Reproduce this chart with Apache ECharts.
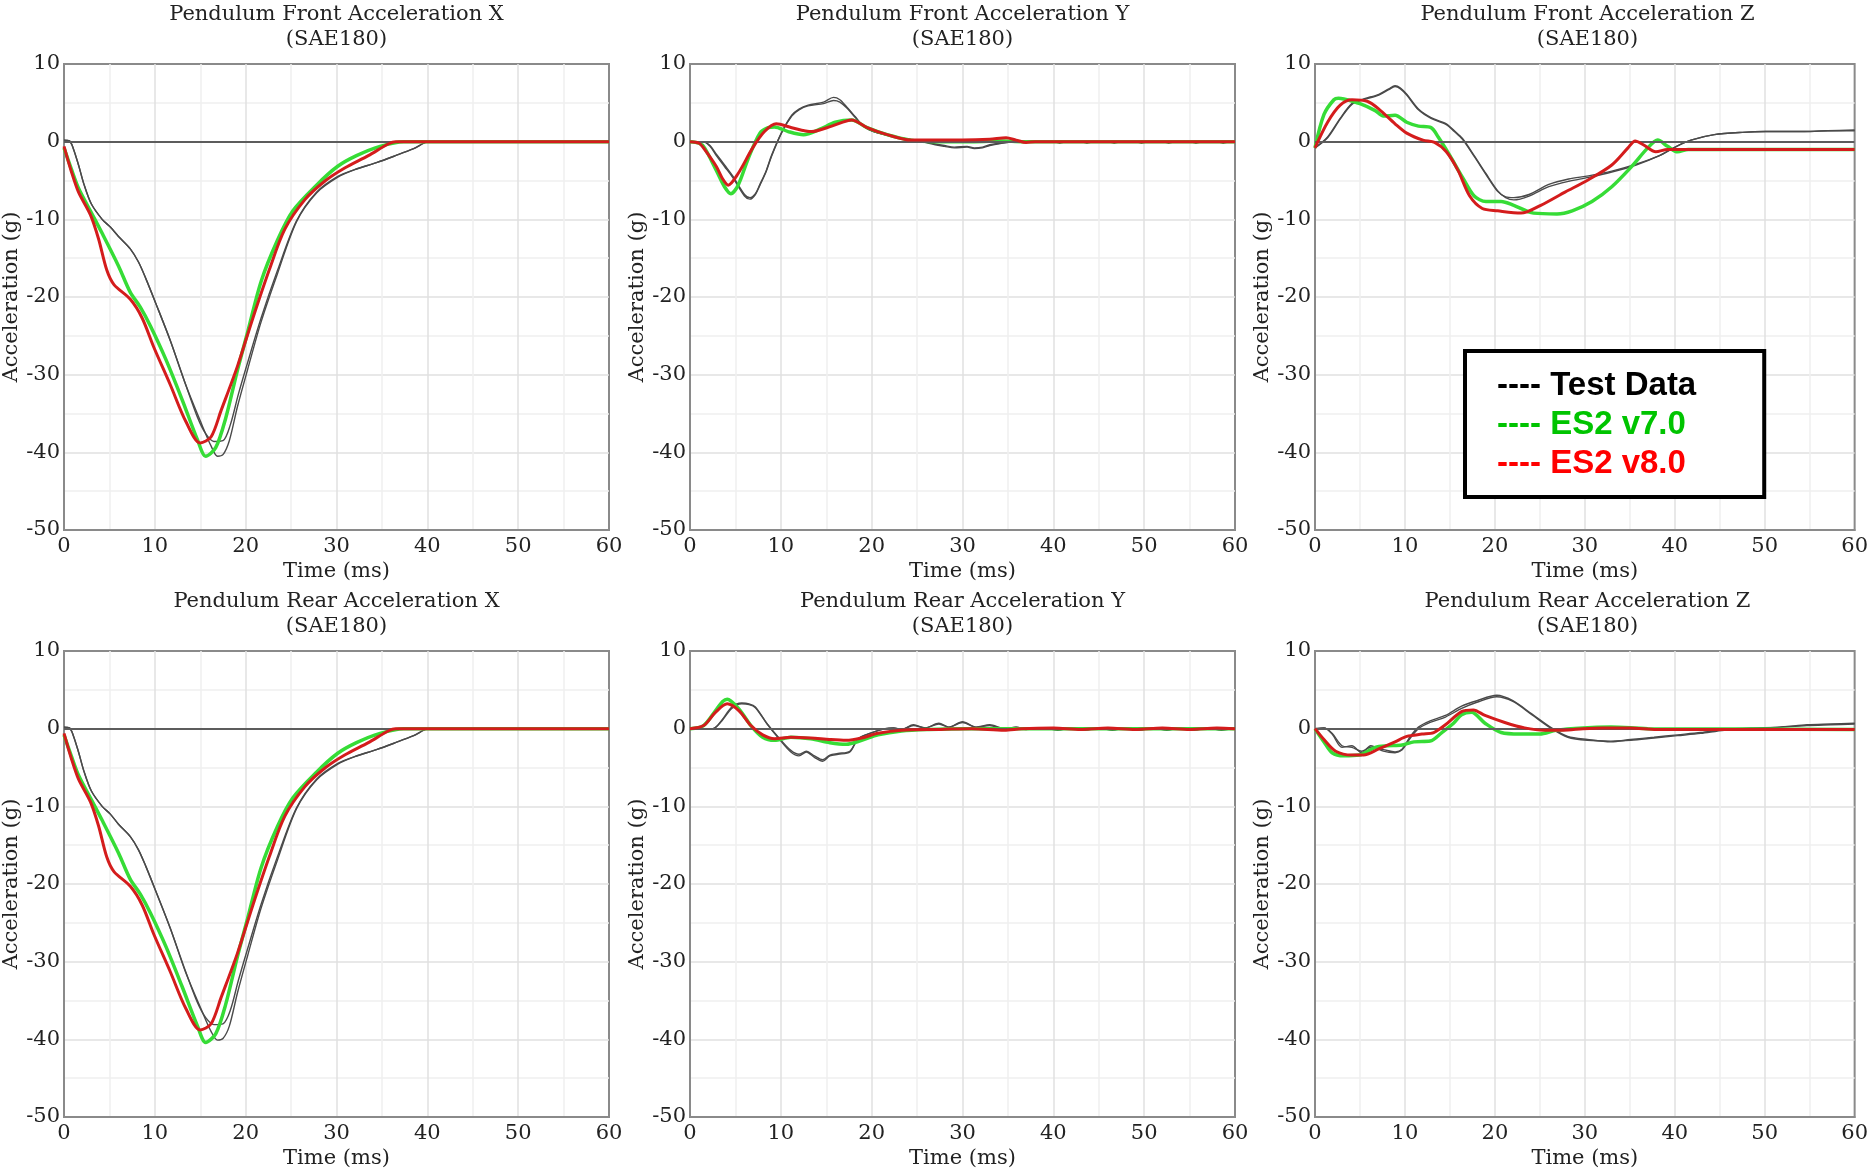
<!DOCTYPE html>
<html>
<head>
<meta charset="utf-8">
<script src="https://cdn.jsdelivr.net/npm/echarts@6/dist/echarts.min.js"></script>
<style>
html,body{margin:0;padding:0;background:#fff;}
#chart{width:1871px;height:1170px;}
</style>
</head>
<body>
<div id="chart"></div>
<script>
// ---------- DATA (time ms, acceleration g) ----------
const PANEL_TITLES = [
  'Pendulum Front Acceleration X', 'Pendulum Front Acceleration Y', 'Pendulum Front Acceleration Z',
  'Pendulum Rear Acceleration X', 'Pendulum Rear Acceleration Y', 'Pendulum Rear Acceleration Z'
];
const FILTER_LABEL = '(SAE180)';
const SERIES_NAMES = ['Test Data', 'ES2 v7.0', 'ES2 v8.0'];
const X_AXIS_NAME = 'Time (ms)';
const Y_AXIS_NAME = 'Acceleration (g)';

// Front X
const FX_TEST1 = [[0,0.2],[0.6,0.1],[1,-0.8],[1.6,-3],[2.2,-5.5],[3,-8],[4.2,-10],[5.1,-11],[6,-12.2],[7.3,-13.8],[8.2,-15.5],[9,-17.6],[10.1,-20.8],[11.7,-25.6],[13.4,-31.3],[15.2,-36.5],[16.2,-39.2],[16.9,-40.5],[17.5,-40.3],[18.2,-38.5],[19.1,-34.1],[20.2,-29.4],[21.7,-23.2],[23.5,-17],[25.6,-10.3],[27.8,-6.6],[30.1,-4.6],[32,-3.6],[34.4,-2.7],[36.5,-1.8],[38.5,-0.9],[40.2,0],[60,0]];
const FX_TEST2 = [[0,0.2],[0.6,0.1],[1,-0.8],[1.6,-3],[2.2,-5.5],[3,-8],[4.2,-10],[5.1,-11],[6,-12.2],[7.3,-13.8],[8.2,-15.5],[9,-17.6],[10.1,-20.8],[11.7,-25.6],[13.4,-31.3],[14.7,-35.5],[15.6,-37.6],[16.5,-38.6],[17.5,-38.5],[18.3,-36.5],[19.2,-32.5],[20.2,-28.5],[21.7,-22.7],[23.5,-16.6],[25.6,-10.2],[27.8,-6.5],[30.1,-4.5],[32,-3.6],[34.4,-2.7],[36.5,-1.8],[38.5,-0.9],[40.2,0],[60,0]];
const FX_V7 = [[0,-0.8],[0.8,-3.5],[1.6,-6],[2.9,-8.9],[4.2,-11.8],[6,-16],[7.3,-19.4],[8.4,-21.3],[9.5,-23.7],[11.2,-28],[13,-33.2],[14.7,-38.4],[15.6,-40.5],[16.7,-39.4],[17.8,-35.6],[19.1,-29.4],[20.2,-24.6],[21.7,-18],[23.5,-12.7],[25.2,-8.9],[27.8,-5.6],[30.1,-3.2],[32.2,-1.8],[34.8,-0.6],[37.4,0],[60,0]];
const FX_V8 = [[0,-0.6],[0.8,-3.8],[1.6,-6.5],[2.9,-9.4],[3.8,-12.5],[4.7,-16.5],[5.5,-18.4],[7.3,-20.3],[8.6,-22.7],[9.9,-26.5],[11.7,-31.3],[13.4,-36],[15,-38.8],[16.2,-38],[17.3,-34.6],[19.1,-28.9],[20.8,-22.7],[22.6,-16.5],[24.3,-11.3],[26.5,-7.5],[28.7,-5.1],[30.9,-3.4],[33.5,-1.8],[35.7,-0.3],[36.5,0],[60,0]];

// Front Y
const FY_TEST1 = [[0,0],[1.4,0],[2.2,-0.6],[2.9,-1.8],[3.8,-3.2],[4.7,-4.6],[6,-7],[6.6,-7.4],[7.2,-6.8],[7.7,-5.6],[8.4,-3.8],[9,-1.8],[10.1,1.2],[11.2,3.4],[12,4.2],[13,4.7],[14.7,5.1],[15.8,5.7],[16.5,5.4],[17.3,4.4],[18.2,3.2],[19.1,2],[20.2,1.3],[22.6,0.6],[25.2,0.1],[27,-0.4],[28,-0.6],[29.1,-0.8],[30.5,-0.7],[31.3,-0.9],[32.2,-0.8],[33,-0.5],[34.8,-0.1],[36.5,0],[40,0],[40.7,-0.2],[41.5,0],[43,0],[43.7,-0.2],[44.5,0],[46,0],[46.7,-0.2],[47.5,0],[49,0],[49.7,-0.2],[50.5,0],[52,0],[52.7,-0.2],[53.5,0],[55,0],[55.7,-0.2],[56.5,0],[58,0],[58.7,-0.2],[59.5,0],[60,0]];
const FY_TEST2 = [[0,0],[1.4,0],[2.2,-0.5],[2.9,-1.6],[3.8,-3],[4.7,-4.4],[6,-6.8],[6.6,-7.2],[7.2,-6.7],[7.7,-5.5],[8.4,-3.7],[9,-1.7],[10.1,1.2],[11.2,3.3],[12,4.1],[13,4.6],[14.7,4.9],[15.8,5.3],[16.5,5.1],[17.3,4.3],[18.2,3.1],[19.1,2],[20.2,1.3],[22.6,0.6],[25.2,0.1],[27,-0.3],[28,-0.5],[29.1,-0.7],[30.5,-0.6],[31.3,-0.8],[32.2,-0.7],[33,-0.4],[34.8,-0.1],[36.5,0],[60,0]];
const FY_V7 = [[0,0],[1,-0.2],[1.6,-0.8],[2.9,-3.7],[3.8,-5.8],[4.5,-6.7],[5.3,-5.6],[6.4,-2.2],[7.7,1.1],[8.6,1.8],[9.3,1.9],[10.8,1.3],[12.5,0.9],[14.3,1.6],[16,2.5],[17.8,2.8],[19.5,1.8],[21.7,0.9],[24.3,0.2],[27,0],[31.3,0],[34.4,0.1],[36.5,0],[60,0]];
const FY_V8 = [[0,0],[1,-0.2],[1.6,-1],[2.9,-3.2],[3.6,-4.8],[4.2,-5.6],[5.3,-4.1],[6.9,-0.8],[8.2,1.3],[9.5,2.3],[11.2,1.8],[13.4,1.3],[15.6,2],[17.8,2.8],[19.5,1.8],[21.7,0.9],[24.3,0.2],[27,0.2],[30,0.2],[33,0.3],[34.8,0.5],[35.9,0.2],[37,-0.1],[38,0],[60,0]];

// Front Z
const FZ_TEST1 = [[0,-0.8],[1.4,0.6],[2.8,3],[4.1,4.9],[5.4,5.5],[7.1,6.1],[8.2,6.8],[8.9,7.2],[9.5,6.9],[10.2,6.1],[11.5,4.2],[12.9,3.1],[14.6,2.3],[15.5,1.4],[16.4,0.4],[17.7,-1.8],[19,-4.1],[20.3,-6.3],[21.2,-7.2],[22.1,-7.5],[23.8,-7],[26,-5.8],[28.2,-5.1],[30.4,-4.6],[33,-3.9],[35.7,-3],[38.3,-1.8],[40.2,-0.6],[41.8,0.2],[44.4,0.9],[47.5,1.2],[50.1,1.3],[54.1,1.3],[57,1.4],[60,1.5]];
const FZ_TEST2 = [[0,-0.8],[1.4,0.5],[2.8,2.9],[4.1,4.8],[5.4,5.4],[7.1,6],[8.2,6.7],[8.9,7.1],[9.5,6.8],[10.2,6],[11.5,4.1],[12.9,3],[14.6,2.2],[15.5,1.3],[16.4,0.3],[17.7,-1.9],[19,-4.2],[20.3,-6.4],[21.2,-7.1],[22.1,-7.2],[23.8,-6.8],[26,-5.5],[28.2,-4.8],[30.4,-4.4],[33,-3.8],[35.7,-2.9],[38.3,-1.8],[40.2,-0.6],[41.8,0.2],[44.4,0.9],[47.5,1.2],[50.1,1.3],[54.1,1.3],[57,1.4],[60,1.4]];
const FZ_V7 = [[0,-0.8],[1,3.5],[2.1,5.4],[2.6,5.6],[3.2,5.5],[5,4.9],[6.7,4],[7.6,3.3],[8.9,3.4],[10.2,2.5],[11.5,2],[12.9,1.8],[13.7,0.6],[15,-1.8],[16.4,-4.6],[17.7,-7],[19,-7.7],[20.7,-7.7],[22.1,-8.2],[24.3,-9.2],[26.9,-9.3],[28.6,-8.9],[30.8,-7.7],[33,-5.8],[35.2,-3.2],[37,-0.8],[38.1,0.2],[39.2,-0.6],[40.3,-1.3],[41.5,-1],[48,-1],[60,-1]];
const FZ_V8 = [[0,-0.8],[1.4,2.5],[2.8,4.7],[4.1,5.4],[5.8,5.2],[7.1,4.2],[8.9,2.3],[10.2,1.1],[12,0.2],[13.3,-0.1],[14.6,-1.3],[15.9,-3.7],[17.2,-7],[18.6,-8.6],[20.3,-8.9],[22.9,-9.2],[25.1,-8.2],[27.8,-6.5],[30.4,-4.9],[33,-3],[34.8,-0.8],[35.6,0.1],[36.5,-0.4],[37.9,-1.3],[39.2,-1],[50,-1],[60,-1]];

// Rear X
const RX_TEST1 = [[0,0.2],[0.6,0.1],[1,-0.8],[1.6,-3],[2.2,-5.5],[3,-8],[4.2,-10],[5.1,-11],[6,-12.3],[7.3,-13.9],[8.2,-15.6],[9,-17.7],[10.1,-20.9],[11.7,-25.7],[13.4,-31.4],[15.2,-36.4],[16.2,-39],[16.9,-40.1],[17.5,-39.9],[18.2,-38.3],[19.1,-34],[20.2,-29.3],[21.7,-23.1],[23.5,-16.9],[25.6,-10.3],[27.8,-6.6],[30.1,-4.6],[32,-3.6],[34.4,-2.7],[36.5,-1.8],[38.5,-0.9],[40.2,0],[60,0]];
const RX_TEST2 = [[0,0.2],[0.6,0.1],[1,-0.8],[1.6,-3],[2.2,-5.5],[3,-8],[4.2,-10],[5.1,-11],[6,-12.3],[7.3,-13.9],[8.2,-15.6],[9,-17.7],[10.1,-20.9],[11.7,-25.7],[13.4,-31.3],[14.7,-35.3],[15.6,-37.2],[16.5,-38.1],[17.5,-38],[18.3,-36.3],[19.2,-32.4],[20.2,-28.4],[21.7,-22.6],[23.5,-16.5],[25.6,-10.2],[27.8,-6.5],[30.1,-4.5],[32,-3.6],[34.4,-2.7],[36.5,-1.8],[38.5,-0.9],[40.2,0],[60,0]];
const RX_V7 = [[0,-0.8],[0.8,-3.5],[1.6,-6],[2.9,-8.9],[4.2,-11.8],[6,-16],[7.3,-19.4],[8.4,-21.3],[9.5,-23.7],[11.2,-28],[13,-33.2],[14.7,-38.3],[15.6,-40.4],[16.7,-39.3],[17.8,-35.5],[19.1,-29.3],[20.2,-24.5],[21.7,-17.9],[23.5,-12.6],[25.2,-8.9],[27.8,-5.6],[30.1,-3.2],[32.2,-1.8],[34.8,-0.6],[37.4,0],[60,0]];
const RX_V8 = [[0,-0.6],[0.8,-3.8],[1.6,-6.5],[2.9,-9.4],[3.8,-12.5],[4.7,-16.5],[5.5,-18.4],[7.3,-20.3],[8.6,-22.7],[9.9,-26.5],[11.7,-31.3],[13.4,-36],[15,-38.8],[16.2,-38],[17.3,-34.6],[19.1,-28.9],[20.8,-22.7],[22.6,-16.5],[24.3,-11.3],[26.5,-7.5],[28.7,-5.1],[30.9,-3.4],[33.5,-1.8],[35.7,-0.3],[36.5,0],[60,0]];

// Rear Y
const RY_TEST1 = [[0,0],[2.5,0],[3.5,1.1],[4.6,2.8],[5.7,3.3],[6.5,3.2],[7.2,2.8],[8.5,0.6],[9.8,-1.3],[11.1,-3],[12,-3.5],[12.8,-3],[13.7,-3.7],[14.6,-4.2],[15.4,-3.5],[16.3,-3.3],[17.6,-3],[18.5,-1.3],[19.8,-0.6],[21.5,0],[22.4,0.1],[23.3,-0.1],[24.6,0.5],[25.9,0.1],[27.4,0.7],[28.5,0.2],[30,0.9],[31.5,0.2],[33,0.5],[34.6,0],[35.9,0.2],[37,-0.1],[39,0.1],[40.5,-0.2],[42,0.1],[43.5,-0.2],[45,0.1],[46.5,-0.2],[48,0.1],[49.5,-0.2],[51,0.1],[52.5,-0.2],[54,0.1],[55.5,-0.2],[57,0.1],[58.5,-0.2],[60,0.1]];
const RY_TEST2 = [[0,0],[2.5,0],[3.5,1],[4.6,2.6],[5.7,3.2],[6.5,3.1],[7.2,2.7],[8.5,0.6],[9.8,-1.2],[11.1,-2.8],[12,-3.3],[12.8,-2.9],[13.7,-3.5],[14.6,-4],[15.4,-3.4],[16.3,-3.2],[17.6,-2.9],[18.5,-1.3],[19.8,-0.6],[21.5,0],[22.4,0.1],[23.3,-0.1],[24.6,0.4],[25.9,0.1],[27.4,0.6],[28.5,0.2],[30,0.8],[31.5,0.2],[33,0.4],[34.6,0],[35.9,0.2],[37,0],[60,0]];
const RY_V7 = [[0,0],[1.5,0.4],[2.8,2.3],[3.6,3.5],[4.1,3.8],[5.4,2.5],[6.7,0.4],[8,-1.1],[9.3,-1.5],[11.1,-1.1],[13.3,-1.3],[15.4,-1.8],[17.2,-2],[18.9,-1.5],[20.7,-0.8],[23.3,-0.3],[26.3,-0.1],[30,0],[60,0]];
const RY_V8 = [[0,0],[1.5,0.4],[2.8,2.1],[4.1,3.2],[5.4,2.3],[6.7,0.4],[8,-0.8],[9.3,-1.3],[11.1,-1.1],[13.3,-1.2],[15.4,-1.4],[17.2,-1.5],[18.9,-1.2],[20.7,-0.6],[23.3,-0.2],[27.6,-0.1],[31,0],[34.6,-0.2],[36.5,0],[40,0.1],[43,-0.1],[46,0.1],[49,-0.1],[52,0.1],[55,-0.1],[58,0.1],[60,0]];

// Rear Z
const RZ_TEST1 = [[0,0],[1,0.1],[1.9,-0.7],[3,-2.4],[4.1,-2.2],[5.2,-3.1],[6.2,-2.2],[7.6,-2.9],[8.9,-3.1],[9.7,-2.6],[10.6,-1],[11.5,0.2],[12.8,1],[14.5,1.7],[16.3,2.9],[18,3.6],[20.2,4.3],[22,3.6],[24.1,1.9],[26.3,0.1],[28.1,-1],[30.3,-1.4],[32.9,-1.7],[35.1,-1.4],[37.7,-1.1],[40.3,-0.8],[42.9,-0.5],[45.5,-0.1],[48.6,0.1],[51.7,0.2],[54.7,0.5],[57.3,0.6],[60,0.7]];
const RZ_TEST2 = [[0,0],[1,0.1],[1.9,-0.6],[3,-2.2],[4.1,-2.4],[5.2,-2.9],[6.2,-2.4],[7.6,-2.7],[8.9,-3],[9.7,-2.7],[10.6,-1.2],[11.5,0],[12.8,0.8],[14.5,1.5],[16.3,2.6],[18,3.4],[20.2,4.1],[22,3.5],[24.1,1.8],[26.3,0],[28.1,-1.1],[30.3,-1.5],[32.9,-1.6],[35.1,-1.5],[37.7,-1.2],[40.3,-0.9],[42.9,-0.6],[45.5,-0.2],[48.6,0],[51.7,0.2],[54.7,0.4],[57.3,0.5],[60,0.6]];
const RZ_V7 = [[0,0],[1,-1.7],[1.9,-3.1],[3.2,-3.5],[4.9,-3.4],[6.7,-2.4],[8,-2.2],[9.7,-2.1],[11,-1.7],[12.8,-1.6],[14.1,-0.5],[15.4,0.7],[16.3,1.8],[17.4,2.1],[18.9,0.7],[20.7,-0.5],[22.8,-0.7],[25,-0.7],[26.8,-0.2],[29.8,0.1],[32.9,0.2],[35.5,0.1],[37,0],[60,-0.1]];
const RZ_V8 = [[0,0],[1,-1.4],[2.3,-2.9],[4.1,-3.4],[5.4,-3.4],[7.1,-2.6],[8.9,-1.7],[10.2,-1],[11.9,-0.7],[13.2,-0.5],[14.5,0.5],[16.3,2.2],[17.6,2.4],[18.9,1.7],[21.1,0.8],[23.3,0.1],[25.5,-0.2],[27.6,-0.2],[29.8,0],[32,0.1],[35,0.1],[38,-0.1],[45,-0.1],[60,-0.1]];

const PANEL_DATA = [
  [FX_TEST1, FX_TEST2, FX_V7, FX_V8],
  [FY_TEST1, FY_TEST2, FY_V7, FY_V8],
  [FZ_TEST1, FZ_TEST2, FZ_V7, FZ_V8],
  [RX_TEST1, RX_TEST2, RX_V7, RX_V8],
  [RY_TEST1, RY_TEST2, RY_V7, RY_V8],
  [RZ_TEST1, RZ_TEST2, RZ_V7, RZ_V8]
];

// ---------- LAYOUT / STYLE ----------
const COL_LEFT = [64, 690, 1315];
const ROW_TOP = [64, 651];
const PW = 545, PH = 466;
const SERIF = 'DejaVu Serif';
const FS = 21;
const TEXT_COLOR = '#222';
const C_TEST = '#4a4a4a', C_V7 = '#36dc36', C_V8 = '#d41c1c';

const grids = [], xAxes = [], yAxes = [], titles = [], series = [];
for (let i = 0; i < 6; i++) {
  const col = i % 3, row = Math.floor(i / 3);
  const left = COL_LEFT[col], top = ROW_TOP[row];
  grids.push({left: left, top: top, width: PW, height: PH, show: true,
    borderColor: '#8a8a8a', borderWidth: 2, backgroundColor: '#fff', containLabel: false});
  titles.push({text: PANEL_TITLES[i] + '\n' + FILTER_LABEL, left: left + PW / 2, top: top - 62,
    textAlign: 'center', padding: 0,
    textStyle: {fontFamily: SERIF, fontSize: FS, fontWeight: 'normal', color: TEXT_COLOR, lineHeight: 25}});
  xAxes.push({type: 'value', gridIndex: i, min: 0, max: 60, interval: 10,
    axisLine: {show: true, onZero: false, lineStyle: {color: '#8a8a8a', width: 2}},
    axisTick: {show: false},
    axisLabel: {fontFamily: SERIF, fontSize: FS, color: TEXT_COLOR, margin: 6},
    splitLine: {show: true, showMinLine: false, showMaxLine: false, lineStyle: {color: '#e0e0e0', width: 1.5}},
    minorTick: {show: false, splitNumber: 2},
    minorSplitLine: {show: true, lineStyle: {color: '#efefef', width: 1.5}},
    name: X_AXIS_NAME, nameLocation: 'middle', nameGap: 31,
    nameTextStyle: {fontFamily: SERIF, fontSize: FS, color: TEXT_COLOR}});
  yAxes.push({type: 'value', gridIndex: i, min: -50, max: 10, interval: 10,
    axisLine: {show: true, lineStyle: {color: '#8a8a8a', width: 2}},
    axisTick: {show: false},
    axisLabel: {fontFamily: SERIF, fontSize: FS, color: TEXT_COLOR, margin: 4},
    splitLine: {show: true, showMinLine: false, showMaxLine: false, lineStyle: {color: '#e0e0e0', width: 1.5}},
    minorTick: {show: false, splitNumber: 2},
    minorSplitLine: {show: true, lineStyle: {color: '#efefef', width: 1.5}},
    name: Y_AXIS_NAME, nameLocation: 'middle', nameGap: 41,
    nameTextStyle: {fontFamily: SERIF, fontSize: FS, color: TEXT_COLOR}});

  const d = PANEL_DATA[i];
  const common = {type: 'line', xAxisIndex: i, yAxisIndex: i, showSymbol: false, symbol: 'none',
    smooth: 0.3, animation: false, emphasis: {disabled: true}, silent: true};
  series.push(Object.assign({}, common, {name: SERIES_NAMES[0], data: d[0], z: 3,
    lineStyle: {color: C_TEST, width: 1.4}, itemStyle: {color: '#000'},
    markLine: {silent: true, symbol: ['none', 'none'], label: {show: false}, animation: false,
      lineStyle: {color: '#5c5c5c', width: 2, type: 'solid'}, data: [{yAxis: 0}]}}));
  series.push(Object.assign({}, common, {name: SERIES_NAMES[0], data: d[1], z: 3,
    lineStyle: {color: C_TEST, width: 1.4}, itemStyle: {color: '#000'}}));
  series.push(Object.assign({}, common, {name: SERIES_NAMES[1], data: d[2], z: 4,
    lineStyle: {color: C_V7, width: 3.5}, itemStyle: {color: '#00c400'}}));
  series.push(Object.assign({}, common, {name: SERIES_NAMES[2], data: d[3], z: 5,
    lineStyle: {color: C_V8, width: 3}, itemStyle: {color: '#ff0000'}}));
}

const chart = echarts.init(document.getElementById('chart'), null, {renderer: 'canvas'});
chart.setOption({
  backgroundColor: '#fff',
  animation: false,
  title: titles,
  grid: grids,
  xAxis: xAxes,
  yAxis: yAxes,
  legend: {
    orient: 'vertical', left: 1465, top: 351,
    padding: [15, 68, 14, 27], itemGap: 0, itemWidth: 0, itemHeight: 10, icon: 'none',
    selectedMode: false, borderColor: '#000', borderWidth: 4, backgroundColor: '#fff', borderRadius: 0,
    formatter: function (n) { return '---- ' + n; },
    textStyle: {fontFamily: 'Liberation Sans', fontWeight: 'bold', fontSize: 33, lineHeight: 39},
    data: [
      {name: SERIES_NAMES[0], textStyle: {color: '#000000'}},
      {name: SERIES_NAMES[1], textStyle: {color: '#00c400'}},
      {name: SERIES_NAMES[2], textStyle: {color: '#ff0000'}}
    ]
  },
  series: series
});
</script>
</body>
</html>
